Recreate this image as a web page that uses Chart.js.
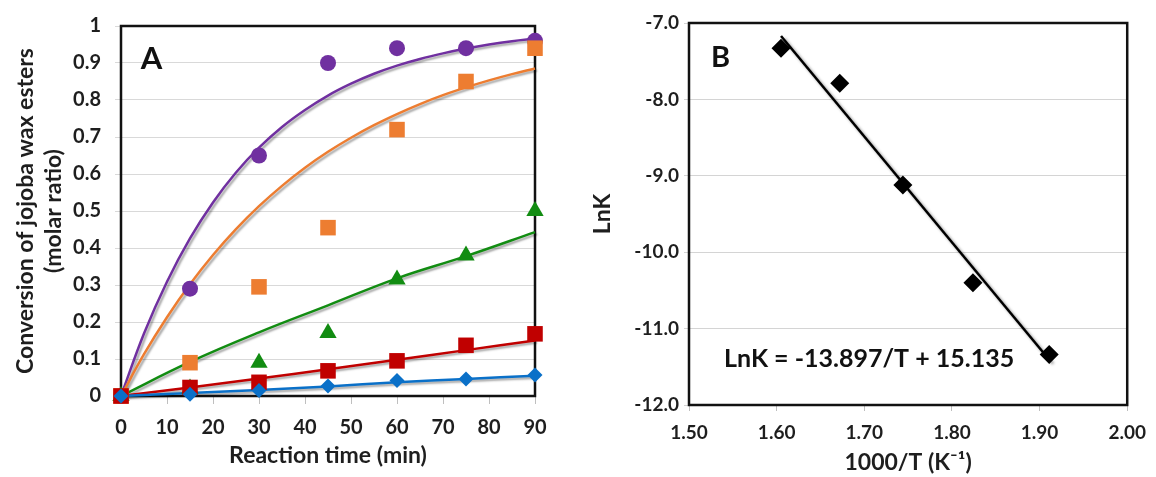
<!DOCTYPE html>
<html>
<head>
<meta charset="utf-8">
<script src="https://cdn.jsdelivr.net/npm/chart.js@4"></script>
<style>
html, body { margin: 0; padding: 0; background: #fff; }
#wrapA { position: absolute; left: 0; top: 0; width: 560px; height: 477px; }
#wrapB { position: absolute; left: 565px; top: 0; width: 591px; height: 477px; }
</style>
</head>
<body>
<div id="wrapA"><canvas id="chartA" width="560" height="477"></canvas></div>
<div id="wrapB"><canvas id="chartB" width="591" height="477"></canvas></div>
<script>
// ---- panel A : conversion vs reaction time ----
const timeMin = [0, 15, 30, 45, 60, 75, 90];
const convPurple = [0, 0.29, 0.65, 0.90, 0.94, 0.94, 0.96];
const convOrange = [0, 0.09, 0.295, 0.455, 0.72, 0.85, 0.94];
const convGreen  = [0, 0.02, 0.09, 0.17, 0.315, 0.38, 0.50];
const convRed    = [0, 0.023, 0.037, 0.068, 0.095, 0.137, 0.168];
const convBlue   = [0, 0.005, 0.015, 0.027, 0.042, 0.046, 0.057];

// fitted curves (every 5 min)
const fitTime   = [0, 5, 10, 15, 20, 25, 30, 35, 40, 45, 50, 55, 60, 65, 70, 75, 80, 85, 90];
const fitPurple = [0, 0.169, 0.309, 0.426, 0.523, 0.604, 0.671, 0.727, 0.773, 0.812, 0.844, 0.871, 0.893, 0.911, 0.926, 0.939, 0.950, 0.959, 0.966];
const fitOrange = [0, 0.113, 0.213, 0.302, 0.381, 0.451, 0.513, 0.568, 0.617, 0.660, 0.698, 0.732, 0.762, 0.789, 0.813, 0.834, 0.853, 0.870, 0.885];
const fitGreen  = [0, 0.092, 0.172, 0.245, 0.318, 0.378, 0.443];
const fitRed    = [0, 0.023, 0.047, 0.072, 0.098, 0.124, 0.150];
const fitBlue   = [0, 0.008, 0.016, 0.026, 0.037, 0.046, 0.055];

// ---- panel B : Arrhenius plot ----
const invTemp = [1.605, 1.672, 1.744, 1.824, 1.911];
const lnK     = [-7.33, -7.79, -9.12, -10.40, -11.34];
const trendX  = [1.605, 1.912];
const trendY  = [-7.17, -11.42];

const PURPLE = '#7030A0', ORANGE = '#ED7D31', GREEN = '#128C12', RED = '#C00000', BLUE = '#0A70C8';
const FONT = 'Lato';

Chart.defaults.font.family = FONT;
Chart.defaults.font.weight = 'bold';
Chart.defaults.color = '#1e1e1e';

function pts(xs, ys) {
    return xs.map((x, i) => ({x: x, y: ys[i]}));
}

function marks(ys, style, radius, color) {
    return {
        data: pts(timeMin, ys),
        pointStyle: style,
        pointRadius: radius,
        backgroundColor: color,
        borderColor: color,
        borderWidth: 0,
        showLine: false,
        clip: false,
    };
}

function fit(xs, ys, color) {
    return {
        data: pts(xs, ys),
        showLine: true,
        pointRadius: 0,
        borderColor: color,
        borderWidth: 2.5,
        tension: 0.4,
        clip: false,
        shadow: { x: 2, y: 2, blur: 2, color: 'rgba(0,0,0,0.35)' },
    };
}

// black frame round the plot area, drawn under the marks
const framePlugin = {
    id: 'frame',
    beforeDatasetsDraw(chart) {
        const a = chart.chartArea;
        const ctx = chart.ctx;
        ctx.save();
        ctx.strokeStyle = '#111';
        ctx.lineWidth = 2.5;
        ctx.strokeRect(a.left, a.top, a.right - a.left, a.bottom - a.top);
        ctx.restore();
    }
};

// grey drop shadow under the lines
const shadowPlugin = {
    id: 'shadow',
    beforeDatasetDraw(chart, args) {
        const sh = args.meta._dataset.shadow;
        if (!sh) return;
        const ctx = chart.ctx;
        ctx.save();
        ctx.shadowColor = sh.color;
        ctx.shadowOffsetX = sh.x;
        ctx.shadowOffsetY = sh.y;
        ctx.shadowBlur = sh.blur;
    },
    afterDatasetDraw(chart, args) {
        if (!args.meta._dataset.shadow) return;
        chart.ctx.restore();
    }
};

// panel letters and equation, placed in data units
const textPlugin = {
    id: 'panelText',
    afterDraw(chart, args, opts) {
        const ctx = chart.ctx;
        const sx = chart.scales.x, sy = chart.scales.y;
        (opts.items || []).forEach(it => {
            ctx.save();
            ctx.font = it.font;
            ctx.fillStyle = '#111';
            ctx.textAlign = 'left';
            ctx.textBaseline = 'middle';
            ctx.fillText(it.text, sx.getPixelForValue(it.x), sy.getPixelForValue(it.y));
            ctx.restore();
        });
    }
};

new Chart(document.getElementById('chartA'), {
    type: 'scatter',
    data: {
        datasets: [
            marks(convBlue, 'rectRot', 7.5, BLUE),
            marks(convRed, 'rect', 11, RED),
            marks(convGreen, 'triangle', 10, GREEN),
            marks(convOrange, 'rect', 11, ORANGE),
            marks(convPurple, 'circle', 8, PURPLE),
            fit(timeMin, fitBlue, BLUE),
            fit(timeMin, fitRed, RED),
            fit(timeMin, fitGreen, GREEN),
            fit(fitTime, fitOrange, ORANGE),
            fit(fitTime, fitPurple, PURPLE),
        ]
    },
    options: {
        responsive: false,
        animation: false,
        devicePixelRatio: 1,
        layout: { padding: { left: 0, top: 23, right: 25, bottom: 0 } },
        plugins: {
            legend: { display: false },
            tooltip: { enabled: false },
            panelText: { items: [
                { text: 'A', x: 4.3, y: 0.912, font: 'bold 31px ' + FONT },
            ] },
        },
        scales: {
            x: {
                type: 'linear',
                min: 0, max: 90,
                afterFit: s => { s.height = 81; },
                border: { display: false },
                grid: { drawOnChartArea: false, drawTicks: true, tickLength: 8, color: '#bfbfbf' },
                ticks: { stepSize: 10, padding: 12, font: { size: 20 } },
                title: { display: true, text: 'Reaction time (min)', font: { size: 23, lineHeight: 1.2 }, padding: { top: 0, bottom: 8 } },
            },
            y: {
                min: 0, max: 1,
                afterFit: s => { s.width = 121; },
                border: { display: false },
                grid: { color: '#d9d9d9', tickLength: 6 },
                ticks: { stepSize: 0.1, padding: 14, font: { size: 20 },
                         callback: v => String(+v.toFixed(1)) },
                title: { display: true, text: ['Conversion of jojoba wax esters', '(molar ratio)'],
                         font: { size: 23, lineHeight: 1.2 }, padding: { top: 12, bottom: 0 } },
            }
        }
    },
    plugins: [framePlugin, shadowPlugin, textPlugin]
});

new Chart(document.getElementById('chartB'), {
    type: 'scatter',
    data: {
        datasets: [
            {
                data: pts(invTemp, lnK),
                pointStyle: 'rectRot',
                pointRadius: 9.5,
                backgroundColor: '#000',
                borderColor: '#000',
                borderWidth: 0,
                clip: false,
            },
            {
                data: pts(trendX, trendY),
                showLine: true,
                pointRadius: 0,
                borderColor: '#000',
                borderWidth: 2.5,
                clip: false,
                shadow: { x: 3, y: 3, blur: 3, color: 'rgba(0,0,0,0.45)' },
            }
        ]
    },
    options: {
        responsive: false,
        animation: false,
        devicePixelRatio: 1,
        layout: { padding: { left: 0, top: 23, right: 19, bottom: 0 } },
        plugins: {
            legend: { display: false },
            tooltip: { enabled: false },
            panelText: { items: [
                { text: 'B', x: 1.525, y: -7.45, font: 'bold 29px ' + FONT },
                { text: 'LnK = -13.897/T + 15.135', x: 1.54, y: -11.4, font: 'bold 25px ' + FONT },
            ] },
        },
        scales: {
            x: {
                type: 'linear',
                min: 1.5, max: 2.0,
                afterFit: s => { s.height = 72; },
                border: { display: false },
                grid: { drawOnChartArea: false, drawTicks: true, tickLength: 6, color: '#bfbfbf' },
                ticks: { stepSize: 0.1, padding: 10, font: { size: 19 },
                         callback: v => v.toFixed(2) },
                title: { display: true, text: '1000/T (K⁻¹)', font: { size: 23, lineHeight: 1.2 }, padding: { top: 0, bottom: 1 } },
            },
            y: {
                min: -12, max: -7,
                afterFit: s => { s.width = 124; },
                border: { display: false },
                grid: { color: '#d4d4d4', tickLength: 5 },
                ticks: { stepSize: 1, padding: 5, font: { size: 19 },
                         callback: v => v.toFixed(1) },
                title: { display: true, text: 'LnK', font: { size: 23, lineHeight: 1.2 }, padding: { top: 24, bottom: 0 } },
            }
        }
    },
    plugins: [framePlugin, shadowPlugin, textPlugin]
});
</script>
</body>
</html>
